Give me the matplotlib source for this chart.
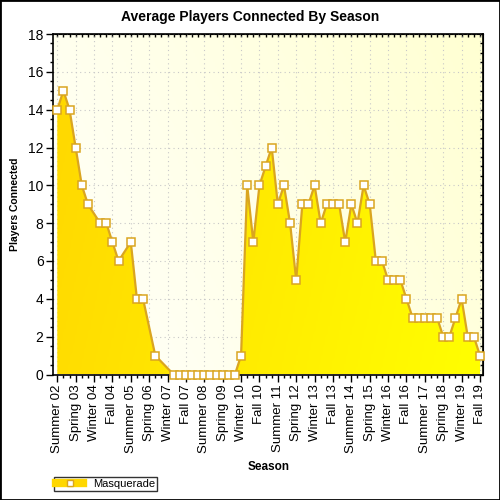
#平均在线玩家图：按季节统计的面积图
import numpy as np
import matplotlib.pyplot as plt
from matplotlib.colors import LinearSegmentedColormap
from matplotlib.lines import Line2D
from matplotlib.patches import Rectangle

plt.rcParams['font.family'] = ['Liberation Sans', 'DejaVu Sans']

#1.数据：从 Summer 02 到 Fall 19 的季节，None 表示该季节无数据
years = list(range(2, 20))
season_names = ['Winter', 'Spring', 'Summer', 'Fall']
seasons = [f'{s} {yr:02d}' for yr in years for s in season_names][2:]

players = [14, 15, 14, 12, 10, 9, None, 8, 8, 7,
           6, None, 7, 4, 4, None, 1, None, None, 0,
           0, 0, 0, 0, 0, 0, 0, 0, 0, 0,
           1, 10, 7, 10, 11, 12, 9, 10, 8, 5,
           9, 9, 10, 8, 9, 9, 9, 7, 9, 8,
           10, 9, 6, 6, 5, 5, 5, 4, 3, 3,
           3, 3, 3, 2, 2, 3, 4, 2, 2, 1]
series_name = 'Masquerade'

x = [i for i, v in enumerate(players) if v is not None]
y = [v for v in players if v is not None]

#2.画布和坐标轴
fig = plt.figure(figsize=(5, 5), dpi=100)
ax = fig.add_axes([0.1066, 0.251, 0.86, 0.681])
xmin, xmax = -0.65, 69.54
ax.set_xlim(xmin, xmax)
ax.set_ylim(0, 18)

#背景渐变
gx, gy = np.meshgrid(np.linspace(0, 1, 200), np.linspace(0, 1, 200))
bg_cmap = LinearSegmentedColormap.from_list('bg', ['#fffffb', '#ffffd2'])
ax.imshow(0.7 * gx + 0.3 * gy, cmap=bg_cmap, origin='lower', aspect='auto',
          extent=[xmin, xmax, 0, 18], zorder=0)

#网格
ax.grid(True, which='major', color='#c8c8c8', linestyle=(0, (1, 3)), linewidth=0.8)
ax.set_axisbelow(True)

#面积填充（渐变）
poly = ax.fill_between(x, y, 0, color='none', zorder=2)
fill_cmap = LinearSegmentedColormap.from_list('fill', ['#ffd700', '#ffff00'])
im = ax.imshow(0.85 * gx + 0.15 * (1 - gy), cmap=fill_cmap, origin='lower',
               aspect='auto', extent=[xmin, xmax, 0, 18], zorder=2)
im.set_clip_path(poly.get_paths()[0], transform=ax.transData)

ax.plot(x, y, color='#daa520', linewidth=1.6, marker='s', markersize=5.6,
        markerfacecolor='white', markeredgecolor='#daa520', markeredgewidth=1.1,
        zorder=3, clip_on=False)

#刻度
ax.set_xticks(range(0, len(seasons), 3))
ax.set_xticklabels(seasons[::3], rotation=90, fontsize=9.5)
ax.set_xticks(range(len(seasons)), minor=True)
ax.set_yticks(range(0, 19, 2))
ax.set_yticks(np.arange(0, 18.5, 0.5), minor=True)
ax.tick_params(axis='y', labelsize=10)
ax.tick_params(which='major', length=5, width=1, direction='out', pad=2)
ax.tick_params(which='minor', length=2.5, width=1, direction='out')

top = ax.secondary_xaxis('top')
top.set_xticks(range(len(seasons)))
top.xaxis.set_ticklabels([])
top.tick_params(direction='in', length=2.5, width=1)
right = ax.secondary_yaxis('right')
right.set_yticks(np.arange(0, 18.5, 0.5))
right.yaxis.set_ticklabels([])
right.tick_params(direction='in', length=2.5, width=1)

for sp in ax.spines.values():
    sp.set_linewidth(1.2)

fig.text(0.5, 1 - 17.5 / 500, 'Average Players Connected By Season', fontsize=10,
         fontweight='bold', ha='center', va='center')
ax.set_xlabel('Season', fontsize=8.5, fontweight='bold', labelpad=6)
ax.set_ylabel('Players Connected', fontsize=7.5, fontweight='bold', labelpad=6)

#图例
handle = Line2D([], [], color='#ffd700', linewidth=6, marker='s', markersize=5,
                markerfacecolor='white', markeredgecolor='#daa520', markeredgewidth=1)
leg = fig.legend([handle], [series_name], loc='lower left', bbox_to_anchor=(0.108, 0.018),
                 fontsize=8, frameon=True, fancybox=False, borderpad=0.2,
                 handlelength=2.4, handletextpad=0.9, borderaxespad=0)
leg.get_frame().set_edgecolor('black')
leg.get_frame().set_linewidth(1)

#外框
fig.patches.append(Rectangle((0, 0), 1, 1, transform=fig.transFigure, fill=False,
                             edgecolor='black', linewidth=2))

fig.savefig('out.png', dpi=100)
